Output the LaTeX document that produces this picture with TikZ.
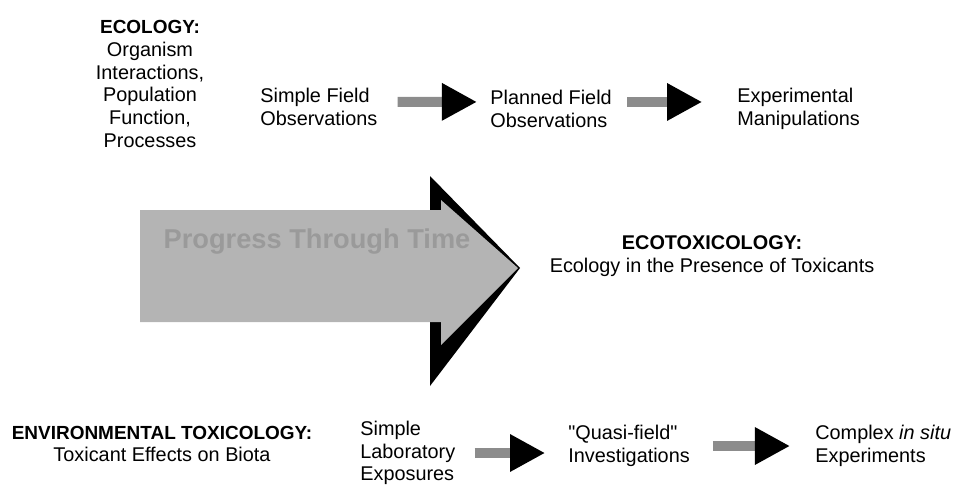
\documentclass[tikz,border=0pt]{standalone}
\usepackage{fontspec}
\setmainfont{Liberation Sans}
\usetikzlibrary{positioning, arrows.meta}
\definecolor{etShaft}{HTML}{8C8C8C}
\definecolor{etBody}{HTML}{B4B4B4}
\definecolor{etTitle}{HTML}{9A9A9A}
\tikzset{
    etText/.style={
        inner sep=0pt,
        align=left,
        font=\fontsize{11.3}{13}\selectfont
    },
    etHead/.style={
        etText,
        align=center
    },
    % Arrows
    etArrowBase/.style={
        -{Triangle[length=20pt, width=20pt, color=black]},
        line width=5.7pt,
        draw=etShaft
    },
    etBigArrow/.style={fill=etBody, draw=none}
}

\begin{document}
\begin{tikzpicture}[x=0.02cm, y=-0.02cm]
    \useasboundingbox (0,0) rectangle (959,487);

    % big arrow
    \fill[black] (430,176) -- (520,268) -- (430,386) -- cycle;
    \fill[etBigArrow] (140,210) -- (441,210) -- (441,200) -- (518,268) -- (441,345) -- (441,322) -- (140,322) -- cycle;
    \node[font=\bfseries\fontsize{15.5}{16}\selectfont, text=etTitle] (progress) at (317,242) {Progress Through Time};

    % ecology row
    \node[etHead] (ecology) at (150,84) {{\bfseries\fontsize{10.8}{13}\selectfont ECOLOGY:}\\Organism\\Interactions,\\Population\\Function,\\Processes};
    \node[etText, anchor=west] (simpleField) at (260,107) {Simple Field\\Observations};
    \node[etText, anchor=west] (plannedField) at (490,109) {Planned Field\\Observations};
    \node[etText, anchor=west] (experimental) at (737,109) {Experimental\\Manipulations};

    \node[etHead] (ecotox) at (712,256) {{\bfseries ECOTOXICOLOGY:}\\Ecology in the Presence of Toxicants};

    % toxicology row
    \node[etHead] (envtox) at (162,444) {{\bfseries\fontsize{10.8}{13}\selectfont ENVIRONMENTAL TOXICOLOGY:}\\Toxicant Effects on Biota};
    \node[etText, anchor=west] (labExposure) at (360,453) {Simple\\Laboratory\\Exposures};
    \node[etText, anchor=west] (quasiField) at (568,446) {\textquotedbl Quasi-field\textquotedbl\\Investigations};
    \node[etText, anchor=west] (inSitu) at (815,446) {Complex \textit{in situ}\\Experiments};

    \draw[etArrowBase, shorten <=11.3pt, shorten >=7.4pt] ([yshift=3pt]simpleField.east) -- ([yshift=4pt]plannedField.west);
    \draw[etArrowBase, shorten <=8.5pt, shorten >=19.8pt] ([yshift=4pt]plannedField.east) -- ([yshift=4pt]experimental.west);
    \draw[etArrowBase, shorten <=10.8pt, shorten >=13pt] (labExposure.east) -- (labExposure.east -| quasiField.west);
    \draw[etArrowBase, shorten <=13pt, shorten >=14.2pt] (quasiField.east) -- (quasiField.east -| inSitu.west);
\end{tikzpicture}
\end{document}
